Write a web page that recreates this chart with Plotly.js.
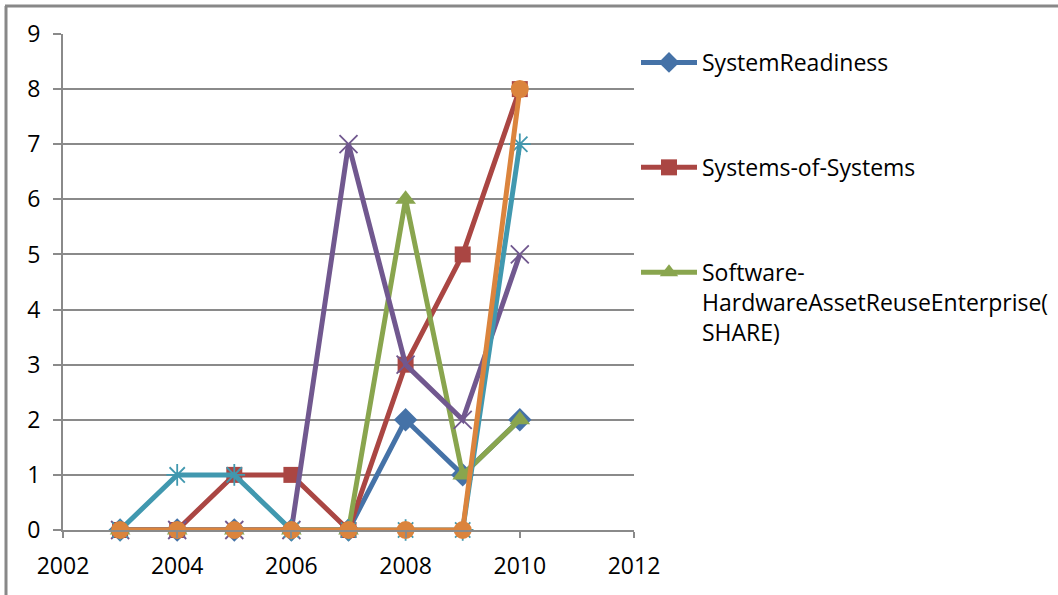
<!DOCTYPE html>
<html>
<head>
<meta charset="utf-8">
<script src="https://cdn.plot.ly/plotly-3.0.1.min.js"></script>
<style>
  html, body { margin: 0; padding: 0; background: #fff; }
  #chart { width: 1058px; height: 595px; }
</style>
</head>
<body>
<div id="chart"></div>
<script>
// Publication counts per year for each programme
const years = [2003, 2004, 2005, 2006, 2007, 2008, 2009, 2010];

const systemReadiness = [0, 0, 0, 0, 0, 2, 1, 2];
const systemsOfSystems = [0, 0, 1, 1, 0, 3, 5, 8];
const share = [0, 0, 0, 0, 0, 6, 1, 2];
const series4 = [0, 0, 0, 0, 7, 3, 2, 5];
const series5 = [0, 1, 1, 0, 0, 0, 0, 7];
const series6 = [0, 0, 0, 0, 0, 0, 0, 8];

const seriesNames = [
  'SystemReadiness',
  'Systems-of-Systems',
  'Software-<br>HardwareAssetReuseEnterprise(<br>SHARE)',
  'Series 4',
  'Series 5',
  'Series 6'
];

const xTicks = [2002, 2004, 2006, 2008, 2010, 2012];
const yTicks = [0, 1, 2, 3, 4, 5, 6, 7, 8, 9];

const W = 1058, H = 595;
const M = { l: 63, r: 424, t: 34, b: 65, autoexpand: false };
const plotW = W - M.l - M.r, plotH = H - M.t - M.b;
const px2x = px => (px - M.l) / plotW;
const px2y = py => (H - M.b - py) / plotH;

const FONT = '"Open Sans", "Noto Sans", sans-serif';
const GRID = '#8a8a8a';

function trace(y, name, color, symbol, size, opts) {
  const hollow = symbol.indexOf('open') >= 0;
  return Object.assign({
    x: years,
    y: y,
    name: name,
    type: 'scatter',
    mode: 'lines+markers',
    cliponaxis: false,
    line: { color: color, width: 5 },
    marker: {
      symbol: symbol,
      size: size,
      color: color,
      line: { color: color, width: hollow ? 1.8 : 0 }
    },
    legendgroup: name
  }, opts || {});
}

const data = [
  trace(systemReadiness, seriesNames[0], '#4572a7', 'diamond', 18),
  trace(systemsOfSystems, seriesNames[1], '#aa4643', 'square', 16),
  trace(share, seriesNames[2], '#89a54e', 'triangle-up', 18),
  trace(series4, seriesNames[3], '#71588f', 'x-thin-open', 18, { showlegend: false }),
  trace(series5, seriesNames[4], '#4198af', 'asterisk-open', 18, { showlegend: false }),
  trace(series6, seriesNames[5], '#db843d', 'circle', 18, { showlegend: false })
];

const layout = {
  width: W,
  height: H,
  margin: M,
  paper_bgcolor: '#ffffff',
  plot_bgcolor: '#ffffff',
  font: { family: FONT, size: 23, color: '#000000' },
  showlegend: true,
  legend: {
    x: px2x(636),
    xanchor: 'left',
    y: px2y(41),
    yanchor: 'top',
    valign: 'top',
    traceorder: 'grouped',
    tracegroupgap: 72,
    itemwidth: 56,
    bgcolor: 'rgba(0,0,0,0)',
    font: { family: FONT, size: 23, color: '#000000' }
  },
  xaxis: {
    range: [2002, 2012],
    tickvals: xTicks,
    ticktext: xTicks.map(String),
    showgrid: false,
    zeroline: false,
    showline: true,
    linecolor: GRID,
    linewidth: 2,
    ticks: 'outside',
    ticklen: 6,
    tickwidth: 2,
    tickcolor: GRID,
    ticklabelstandoff: 8,
    tickfont: { family: FONT, size: 23, color: '#000000' }
  },
  yaxis: {
    range: [0, 9],
    tickvals: yTicks,
    showgrid: true,
    gridcolor: GRID,
    gridwidth: 2,
    zeroline: false,
    showline: true,
    linecolor: GRID,
    linewidth: 2,
    ticks: 'outside',
    ticklen: 8,
    tickwidth: 2,
    tickcolor: GRID,
    ticklabelstandoff: 8,
    tickfont: { family: FONT, size: 23, color: '#000000' }
  },
  shapes: [
    // chart-area frame (left and top edges)
    { type: 'line', xref: 'paper', yref: 'paper',
      x0: px2x(6), x1: px2x(6), y0: px2y(H + 5), y1: px2y(6),
      line: { color: '#888888', width: 3 } },
    { type: 'line', xref: 'paper', yref: 'paper',
      x0: px2x(5), x1: px2x(W + 5), y0: px2y(6), y1: px2y(6),
      line: { color: '#888888', width: 3 } }
  ]
};

Plotly.newPlot('chart', data, layout, { displayModeBar: false, staticPlot: true });
</script>
</body>
</html>
